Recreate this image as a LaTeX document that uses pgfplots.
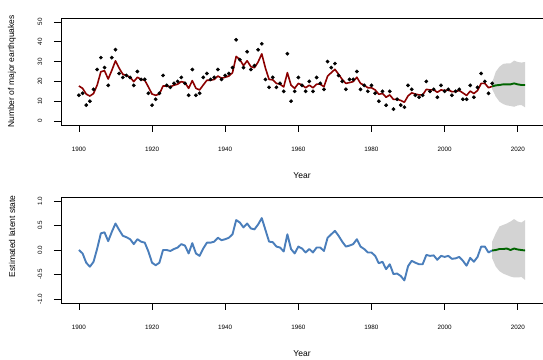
\documentclass[border=0pt]{standalone}
\usepackage{pgfplots}
\usepackage{pgfplotstable}
\pgfplotsset{compat=1.18}
\usepackage{fontspec}
\setmainfont{Liberation Sans}
\definecolor{myred}{HTML}{8B0000}
\definecolor{mygreen}{HTML}{006400}
\definecolor{myblue}{HTML}{4A7EBB}
\definecolor{band}{HTML}{D3D3D3}

\pgfplotstableread{
year count state mean
1900 13 0.00 17.7
1901 14 -0.07 16.5
1902 8 -0.26 13.6
1903 10 -0.34 12.6
1904 16 -0.24 13.9
1905 26 0.03 18.2
1906 32 0.34 24.9
1907 27 0.36 25.4
1908 18 0.18 21.2
1909 32 0.37 25.6
1910 36 0.54 30.4
1911 24 0.41 26.7
1912 22 0.29 23.6
1913 23 0.26 23.0
1914 22 0.22 22.1
1915 18 0.12 19.9
1916 25 0.22 22.1
1917 21 0.17 21.0
1918 21 0.15 20.6
1919 14 -0.03 17.2
1920 8 -0.26 13.6
1921 11 -0.31 13.0
1922 14 -0.26 13.6
1923 23 0.00 17.7
1924 18 0.00 17.7
1925 17 -0.02 17.3
1926 19 0.02 18.1
1927 20 0.05 18.6
1928 22 0.12 19.9
1929 19 0.09 19.4
1930 13 -0.07 16.5
1931 26 0.14 20.4
1932 13 -0.07 16.5
1933 14 -0.12 15.7
1934 22 0.03 18.2
1935 24 0.15 20.6
1936 21 0.15 20.6
1937 22 0.17 21.0
1938 26 0.25 22.7
1939 21 0.20 21.6
1940 23 0.22 22.1
1941 24 0.25 22.7
1942 27 0.32 24.4
1943 41 0.61 32.6
1944 31 0.56 31.0
1945 27 0.46 28.0
1946 35 0.54 30.4
1947 26 0.44 27.5
1948 28 0.42 26.9
1949 36 0.52 29.8
1950 39 0.65 33.9
1951 21 0.41 26.7
1952 17 0.17 21.0
1953 22 0.16 20.8
1954 17 0.07 19.0
1955 19 0.05 18.6
1956 15 -0.03 17.2
1957 34 0.32 24.4
1958 10 0.02 18.1
1959 15 -0.07 16.5
1960 22 0.07 19.0
1961 18 0.03 18.2
1962 15 -0.05 16.8
1963 20 0.02 18.1
1964 15 -0.05 16.8
1965 22 0.05 18.6
1966 19 0.05 18.6
1967 16 -0.02 17.3
1968 30 0.25 22.7
1969 27 0.32 24.4
1970 29 0.39 26.1
1971 23 0.29 23.6
1972 20 0.17 21.0
1973 16 0.07 19.0
1974 21 0.09 19.4
1975 21 0.12 19.9
1976 25 0.22 22.1
1977 16 0.07 19.0
1978 18 0.02 18.1
1979 15 -0.05 16.8
1980 18 -0.05 16.8
1981 14 -0.12 15.7
1982 10 -0.27 13.5
1983 15 -0.24 13.9
1984 8 -0.39 12.0
1985 15 -0.29 13.2
1986 6 -0.49 10.9
1987 11 -0.48 11.0
1988 8 -0.53 10.4
1989 7 -0.62 9.5
1990 18 -0.33 12.7
1991 16 -0.22 14.2
1992 13 -0.26 13.6
1993 12 -0.29 13.2
1994 13 -0.29 13.2
1995 20 -0.10 16.0
1996 15 -0.12 15.7
1997 16 -0.11 15.8
1998 12 -0.20 14.5
1999 18 -0.12 15.7
2000 15 -0.14 15.4
2001 16 -0.12 15.7
2002 13 -0.18 14.8
2003 15 -0.17 14.9
2004 16 -0.14 15.4
2005 11 -0.22 14.2
2006 11 -0.32 12.9
2007 18 -0.16 15.1
2008 12 -0.24 13.9
2009 17 -0.14 15.4
2010 24 0.07 19.0
2011 20 0.07 19.0
2012 14 -0.05 16.8
2013 19 -0.01 17.5
}\obs

\pgfplotstableread{
year mean lo hi state slo shi
2013 17.5 16.0 19.5 -0.01 -0.17 0.17
2014 18.0 12.3 24.9 0.00 -0.34 0.34
2015 18.2 9.8 27.4 0.02 -0.43 0.48
2016 18.5 8.6 28.8 0.02 -0.48 0.51
2017 18.5 7.9 29.1 0.03 -0.51 0.54
2018 18.5 7.6 29.1 0.00 -0.54 0.58
2019 19.0 7.2 30.5 0.03 -0.56 0.63
2020 18.5 7.9 29.8 0.01 -0.56 0.58
2021 18.2 8.1 29.5 0.00 -0.55 0.56
2022 18.2 6.9 29.8 -0.01 -0.61 0.61
}\fc

\pgfplotsset{
  common/.style={
    scale only axis,
    width=482bp,
    xmin=1895.1, xmax=2026.9,
    xtick={1900,1920,1940,1960,1980,2000,2020},
    tick align=outside,
    tick pos=left,
    major tick length=7bp,
    axis line style={line width=0.8bp},
    every tick/.style={black, line width=0.6bp},
    ticklabel style={font=\fontsize{6.3bp}{7bp}\selectfont},
    /pgf/number format/assume math mode=true,
    x tick label style={/pgf/number format/1000 sep={}, anchor=center, yshift=-17bp},
    y tick label style={anchor=center, rotate=90, yshift=14bp},
    label style={font=\fontsize{8.5bp}{10bp}\selectfont},
    xlabel={Year},
    xlabel style={at={(axis description cs:0.5,0)}, anchor=center, yshift=-51bp},
    clip=true,
  }
}

\begin{document}
\begin{tikzpicture}
\useasboundingbox (0,0) rectangle (543bp,360bp);
\begin{axis}[common,
  at={(61bp,235bp)}, anchor=south west, height=107bp,
  ymin=-2, ymax=52, ytick={0,10,20,30,40,50},
  ylabel={Number of major earthquakes},
  ylabel style={at={(axis description cs:0,0.5)}, anchor=center, yshift=49bp},
]
\addplot[fill=band, draw=none] table[x=year, y=hi] {\fc}
  -- (axis cs:2022,6.9) -- (axis cs:2021,8.1) -- (axis cs:2020,7.9) -- (axis cs:2019,7.2)
  -- (axis cs:2018,7.6) -- (axis cs:2017,7.9) -- (axis cs:2016,8.6) -- (axis cs:2015,9.8)
  -- (axis cs:2014,12.3) -- (axis cs:2013,16.0) -- cycle;
\addplot[only marks, mark=*, mark size=1.7bp, black] table[x=year, y=count] {\obs};
\addplot[myred, line width=1.6bp, line join=round] table[x=year, y=mean] {\obs};
\addplot[mygreen, line width=1.9bp, line join=round] table[x=year, y=mean] {\fc};
\end{axis}

\begin{axis}[common,
  at={(61bp,57bp)}, anchor=south west, height=106bp,
  ymin=-1.08, ymax=1.08, ytick={-1,-0.5,0,0.5,1},
  yticklabels={-1.0,-0.5,0.0,0.5,1.0},
  ylabel={Estimated latent state},
  ylabel style={at={(axis description cs:0,0.63)}, anchor=center, yshift=49bp},
]
\addplot[fill=band, draw=none] table[x=year, y=shi] {\fc}
  -- (axis cs:2022,-0.61) -- (axis cs:2021,-0.55) -- (axis cs:2020,-0.56) -- (axis cs:2019,-0.56)
  -- (axis cs:2018,-0.54) -- (axis cs:2017,-0.51) -- (axis cs:2016,-0.48) -- (axis cs:2015,-0.43)
  -- (axis cs:2014,-0.34) -- (axis cs:2013,-0.17) -- cycle;
\addplot[myblue, line width=1.9bp, line join=round] table[x=year, y=state] {\obs};
\addplot[mygreen, line width=1.9bp, line join=round] table[x=year, y=state] {\fc};
\end{axis}
\end{tikzpicture}
\end{document}
